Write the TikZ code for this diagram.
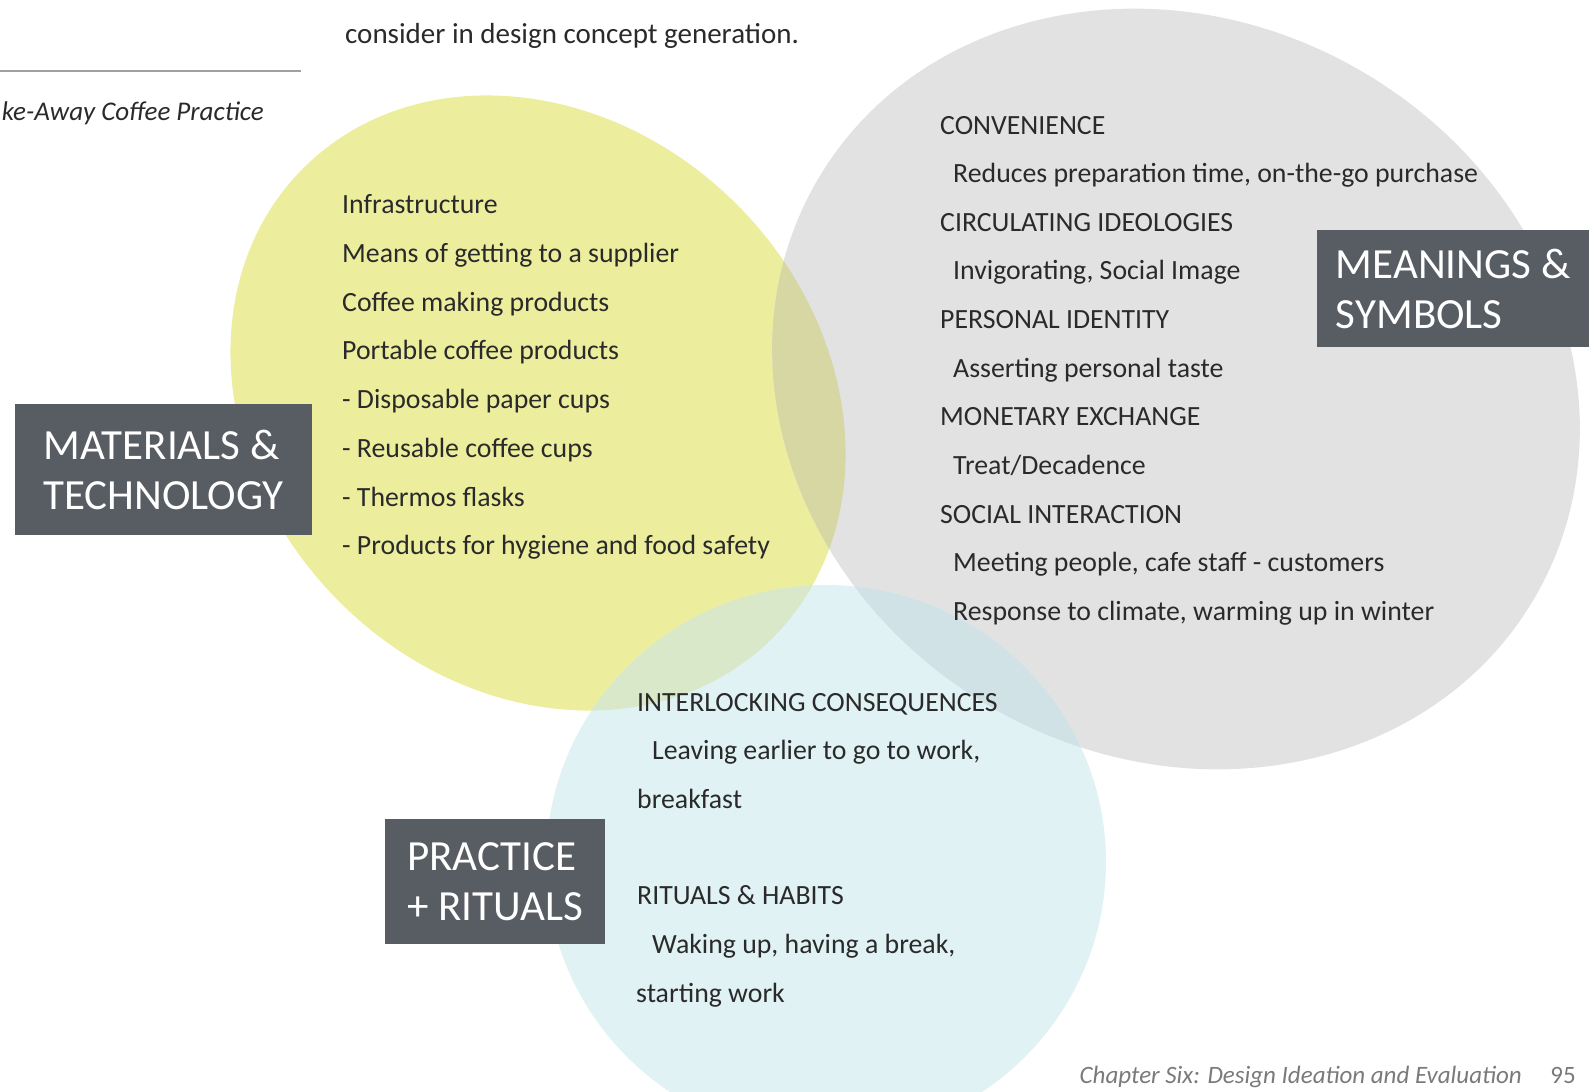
\documentclass[tikz,border=0pt]{standalone}
\usepackage{fontspec}
\setmainfont{Carlito}
\usetikzlibrary{positioning}

\definecolor{yellowfill}{HTML}{ECEE9E}
\definecolor{grayfill}{HTML}{E2E2E2}
\definecolor{bluefill}{HTML}{E0F2F4}
\definecolor{ygfill}{HTML}{D6D7A2}
\definecolor{ybfill}{HTML}{D8E8C8}
\definecolor{gbfill}{HTML}{D0E2E6}
\definecolor{boxgray}{HTML}{585C63}
\definecolor{ink}{HTML}{2A2A2A}
\definecolor{footgray}{HTML}{7A7A7A}
\definecolor{rulegray}{HTML}{A0A0A0}

\begin{document}
\begin{tikzpicture}[
      x=1pt, y=-1pt,
      item/.style={anchor=base west, inner sep=0pt, text=ink, font=\fontsize{27.8}{32}\selectfont},
      catbox/.style={fill=boxgray, text=white, align=left, inner sep=0pt, anchor=north west,
        font=\fontsize{43}{50}\selectfont},
      yshape/.style={rotate around={-45:(538,403)}},
      gshape/.style={rotate around={-30:(1176,389)}}
    ]
    \useasboundingbox (0,0) rectangle (1591,1092);
    % the three fields
    \fill[yellowfill, yshape] (538,403) ellipse [x radius=332, y radius=281];
    \fill[grayfill, gshape] (1176,389) ellipse [x radius=415, y radius=368];
    \fill[bluefill] (826,862) ellipse [x radius=280, y radius=277];
    \begin{scope}
      \clip[yshape] (538,403) ellipse [x radius=332, y radius=281];
      \fill[ygfill, gshape] (1176,389) ellipse [x radius=415, y radius=368];
      \fill[ybfill] (826,862) ellipse [x radius=280, y radius=277];
    \end{scope}
    \begin{scope}
      \clip[gshape] (1176,389) ellipse [x radius=415, y radius=368];
      \fill[gbfill] (826,862) ellipse [x radius=280, y radius=277];
    \end{scope}
    % page bits
    \node[item, font=\fontsize{29}{32}\selectfont] (intro) at (345,43) {consider in design concept generation.};
    \draw[rulegray, line width=1.5] (0,71) -- (301,71);
    \node[item, anchor=base east, font=\fontsize{27}{32}\selectfont\itshape] (caption) at (264,120) {ke-Away Coffee Practice};
    % materials and technology
    \foreach \t [count=\i from 0] in {Infrastructure, Means of getting to a supplier,
        Coffee making products, Portable coffee products, - Disposable paper cups,
        - Reusable coffee cups, - Thermos flasks, - Products for hygiene and food safety}
      \node[item] (m\i) at (342,213.8+48.7*\i) {\t};
    % meanings and symbols
    \foreach \dx/\t [count=\i from 0] in {0/CONVENIENCE, 13/{Reduces preparation time, on-the-go purchase},
        0/CIRCULATING IDEOLOGIES, 13/{Invigorating, Social Image}, 0/PERSONAL IDENTITY,
        13/Asserting personal taste, 0/MONETARY EXCHANGE, 13/{Treat/Decadence},
        0/SOCIAL INTERACTION, 13/{Meeting people, cafe staff - customers},
        13/{Response to climate, warming up in winter}}
      \node[item] (s\i) at (940+\dx,134+48.66*\i) {\t};
    % practice and rituals
    \node[item] (inter) at (637,711) {INTERLOCKING CONSEQUENCES};
    \node[item] (leave) at (652,759) {Leaving earlier to go to work,};
    \node[item] (bfast) at (637,808) {breakfast};
    \node[item] (ritual) at (637,904) {RITUALS \& HABITS};
    \node[item] (wake) at (652,953) {Waking up, having a break,};
    \node[item] (start) at (636,1002) {starting work};
    % category labels
    \node[catbox, minimum width=297, minimum height=131] (mat) at (15,404) {MATERIALS \&\\TECHNOLOGY};
    \node[catbox, minimum width=272, minimum height=117] (mean) at (1317,230) {MEANINGS \&\\SYMBOLS};
    \node[catbox, minimum width=220, minimum height=125] (prac) at (385,819) {PRACTICE\\+ RITUALS};
    % footer
    \node[item, anchor=base east, text=footgray, font=\fontsize{25}{30}\selectfont\itshape] (chap) at (1522,1083)
      {Chapter Six: Design Ideation and Evaluation};
    \node[item, anchor=base east, text=footgray, font=\fontsize{25}{30}\selectfont] (page) at (1576,1083) {95};
\end{tikzpicture}
\end{document}
